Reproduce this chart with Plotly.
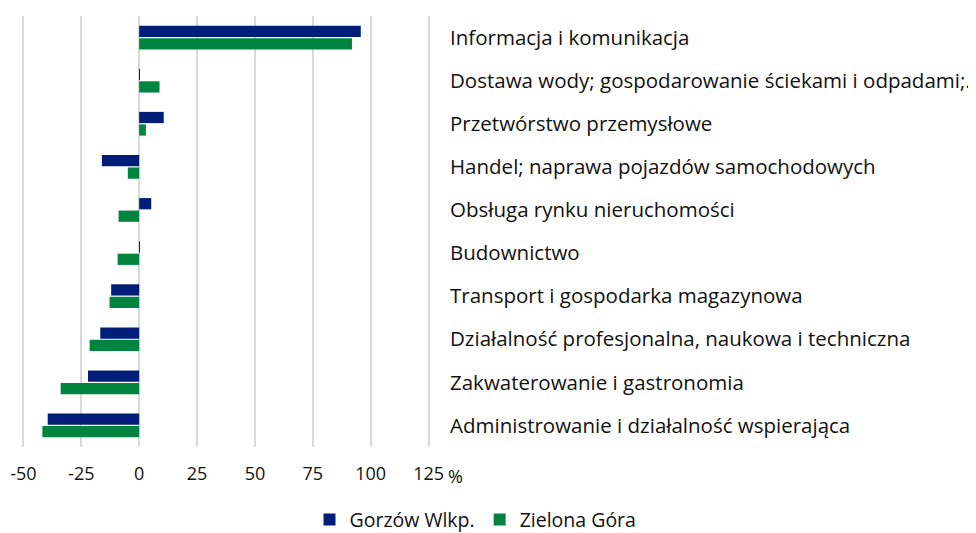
import plotly.graph_objects as go

categories = [
    "Informacja i komunikacja",
    "Dostawa wody; gospodarowanie ściekami i odpadami;.",
    "Przetwórstwo przemysłowe",
    "Handel; naprawa pojazdów samochodowych",
    "Obsługa rynku nieruchomości",
    "Budownictwo",
    "Transport i gospodarka magazynowa",
    "Działalność profesjonalna, naukowa i techniczna",
    "Zakwaterowanie i gastronomia",
    "Administrowanie i działalność wspierająca",
]
gorzow = [95.7, 0.2, 10.6, -16.1, 5.2, 0.2, -12.1, -16.8, -22.1, -39.5]
zielona = [91.9, 8.8, 2.9, -4.9, -8.9, -9.3, -12.8, -21.4, -33.9, -41.8]
tick_vals = [-50, -25, 0, 25, 50, 75, 100, 125]
tick_text = ["-50", "-25", "0", "25", "50", "75", "100", "125"]

FONT = "Open Sans"
TXT = "#111111"

fig = go.Figure()
fig.add_trace(go.Bar(y=categories, x=gorzow, orientation="h", name="Gorzów Wlkp.",
                     marker=dict(color="#001E78", line=dict(width=0))))
fig.add_trace(go.Bar(y=categories, x=zielona, orientation="h", name="Zielona Góra",
                     marker=dict(color="#00843F", line=dict(width=0))))

fig.update_layout(
    width=976, height=533,
    margin=dict(l=14, r=554, t=8, b=94, autoexpand=False),
    paper_bgcolor="white", plot_bgcolor="white",
    barmode="group", bargap=0.42, bargroupgap=0.1,
    font=dict(family=FONT, size=18, color=TXT),
    showlegend=True,
    legend=dict(orientation="h", xref="container", yref="container",
                x=0.479, xanchor="center", y=0.003, yanchor="bottom",
                font=dict(size=19.5), itemwidth=30, tracegroupgap=0),
    xaxis=dict(range=[-50.6, 125.6], tickvals=tick_vals, ticktext=tick_text,
               showgrid=True, gridcolor="#d9d9d9", gridwidth=2,
               zeroline=False, showline=False, ticks="", automargin=False,
               ticklabelstandoff=14, tickfont=dict(size=18)),
    yaxis=dict(side="right", autorange="reversed", showgrid=False,
               showline=False, ticks="", ticklabelstandoff=19, automargin=False,
               tickfont=dict(size=20.5)),
)
fig.add_annotation(text="%", xref="paper", yref="paper", x=1.0, y=0,
                   xanchor="left", yanchor="top", xshift=16, yshift=-15,
                   showarrow=False, font=dict(size=18, color=TXT))

fig.write_html("out.html")
